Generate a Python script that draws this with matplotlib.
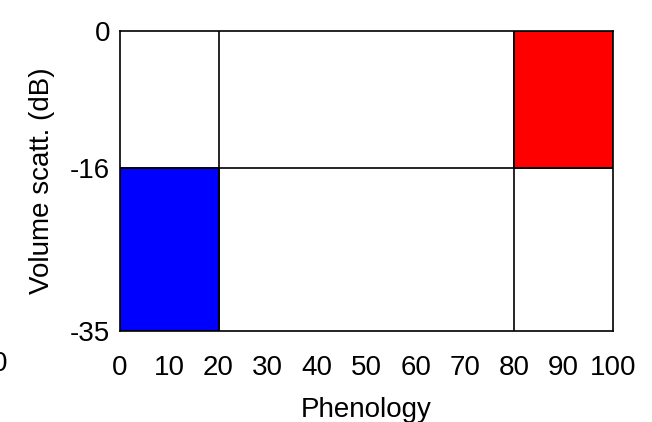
import matplotlib.pyplot as plt

plt.rcParams['font.family'] = ['Liberation Sans', 'DejaVu Sans']
plt.rcParams['axes.unicode_minus'] = False

# phenology windows and their volume scattering ranges
x_start = [0, 80]
x_end = [20, 100]
y_low = [-35, -16]
y_high = [-16, 0]
colors = ['#0000ff', '#ff0000']

x_splits = [20, 80]
y_splits = [-16]
x_ticks = [0, 10, 20, 30, 40, 50, 60, 70, 80, 90, 100]
y_ticks = [-35, -16, 0]

fig = plt.figure(figsize=(6.52, 4.22), dpi=100)
ax = fig.add_axes([0.184, 0.2156, 0.756, 0.7109])

for x0, x1, y0, y1, c in zip(x_start, x_end, y_low, y_high, colors):
    ax.bar(x0, y1 - y0, width=x1 - x0, bottom=y0, align='edge',
           color=c, edgecolor='black', linewidth=1.2, zorder=2)

for xv in x_splits:
    ax.axvline(xv, color='black', linewidth=1.2, zorder=3)
for yv in y_splits:
    ax.axhline(yv, color='black', linewidth=1.2, zorder=3)

ax.set_xlim(0, 100)
ax.set_ylim(-35, 0)
ax.set_xticks(x_ticks)
ax.set_yticks(y_ticks)
ax.tick_params(length=0, labelsize=20)
ax.tick_params(axis='x', pad=17)
ax.tick_params(axis='y', pad=7)
for s in ax.spines.values():
    s.set_linewidth(1.2)

ax.set_xlabel('Phenology', fontsize=20, labelpad=12)
ax.set_ylabel('Volume scatt. (dB)', fontsize=20, labelpad=11)

# leftover tick label from the neighbouring panel
fig.text(0.0, 0.137, '0', fontsize=20, ha='center', va='center')

fig.savefig('out.png', dpi=100)
